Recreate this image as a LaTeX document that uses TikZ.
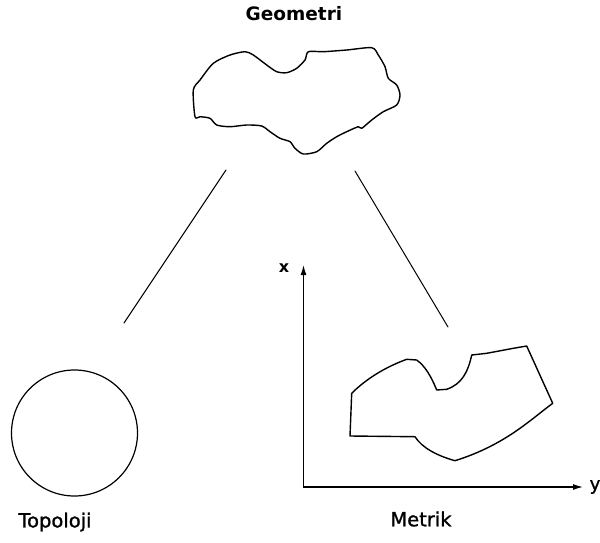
\documentclass[tikz,border=0pt]{standalone}
\usepackage{fontspec}
\setsansfont{DejaVu Sans}
\newfontfamily\lblfont[FakeBold=1.2]{DejaVu Sans}
\usetikzlibrary{arrows.meta}

\begin{document}
\begin{tikzpicture}[x=1pt, y=-1pt, line join=round, line cap=round,
  lbl/.style={font=\lblfont\fontsize{19.5}{19.5}\selectfont, inner sep=0pt},
  outline/.style={line width=1.4pt}]
\useasboundingbox (0,0) rectangle (600,542);
% labels
\node[lbl, font=\sffamily\bfseries\fontsize{18.5}{18.5}\selectfont] (geo) at (294,14) {Geometri};
\node[lbl] (top) at (55,522) {Topoloji};
\node[lbl] (met) at (421,519) {Metrik};
\node[lbl, font=\sffamily\bfseries\fontsize{16}{16}\selectfont] (xlab) at (284,268.5) {x};
\node[lbl, font=\lblfont\fontsize{18}{18}\selectfont] (ylab) at (595,487) {y};
% geometri shape
\draw[outline] plot[smooth cycle, tension=0.45] coordinates {
  (195,116.7) (193.3,90) (200,80) (213.3,63.3) (230,55) (245,51.7) (253.3,55)
  (266.7,65) (276.7,71.7) (286.7,72.7) (296.7,68.3) (305,60) (308.3,51.7)
  (323.3,51.7) (346.7,50) (371.7,47.7) (378.3,55) (385,66.7) (388.3,78.3)
  (396.7,85) (400,95) (396.7,105) (383.3,111.7) (371.7,120) (361.7,128.3)
  (358.3,126.7) (346.7,131.7) (336.7,136.7) (326.7,143.3) (316.7,151.7)
  (303.3,154) (295,148.3) (290,141.7) (280,138.3) (270,131.7) (261.7,126)
  (246.7,125) (230,126.7) (216.7,125) (210,118.3) (200,116.7)};
% lines down
\coordinate (gl) at (226,170);
\coordinate (tl) at (124,323);
\coordinate (gr) at (355,171);
\coordinate (mr) at (448,327);
\draw[line width=1pt] (gl) -- (tl);
\draw[line width=1pt] (gr) -- (mr);
% topoloji circle
\draw[line width=1.2pt] (74.5,433) circle (63);
% axes
\coordinate (o) at (303.5,487);
\draw[line width=1.2pt, -{Latex[length=10pt,width=6pt]}] (o) -- (303.5,265) coordinate (xend);
\draw[line width=1.2pt, -{Latex[length=10pt,width=6pt]}] (o) -- (583,487) coordinate (yend);
% metrik shape
\draw[outline] (351.7,393.3) .. controls (362,383) and (380,369) .. (406.7,359.3)
  -- (416.7,360) .. controls (425,366) and (431,376) .. (436.7,390)
  -- (446.7,389.3) .. controls (462,384) and (468,372) .. (471.7,355)
  -- (486.7,353.3) -- (513.3,348.3) -- (526.7,346) -- (552.7,403.3)
  .. controls (530,420) and (505,445) .. (455,460.7)
  .. controls (438,456) and (422,448) .. (415,436.7)
  -- (350,436) -- cycle;
\end{tikzpicture}
\end{document}
